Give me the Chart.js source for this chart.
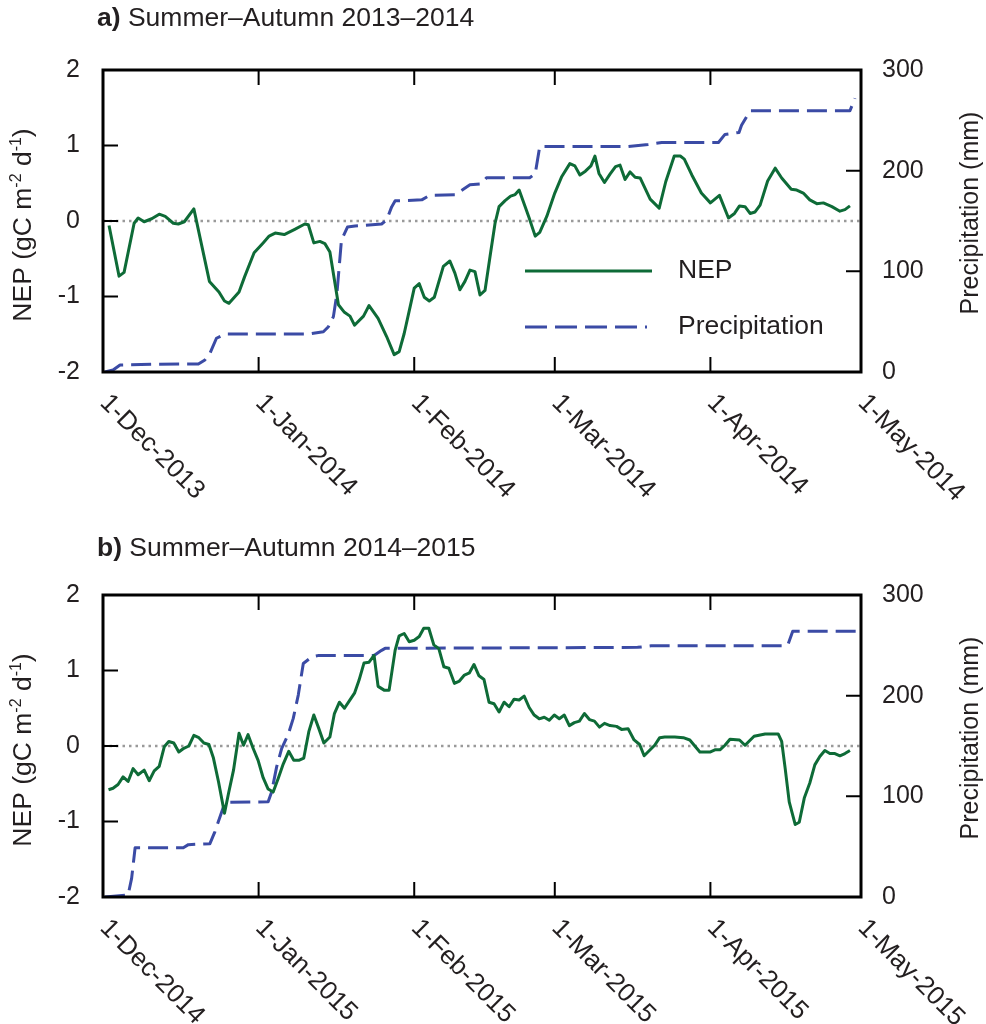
<!DOCTYPE html>
<html>
<head>
<meta charset="utf-8">
<script src="https://cdn.jsdelivr.net/npm/chart.js@4.4.1/dist/chart.umd.min.js"></script>
<style>
  body { margin: 0; background: #fff; }
  .panel { position: absolute; left: 0; }
  #panelA { top: 0; }
  #panelB { top: 525px; }
</style>
</head>
<body>
<div class="panel" id="panelA"><canvas id="chartA" width="986" height="525"></canvas></div>
<div class="panel" id="panelB"><canvas id="chartB" width="986" height="499"></canvas></div>
<script>
// days counted from 1 December of each season
const monthTickDays = [0, 31, 62, 90, 121, 151];
const tickLabelsA = ['1-Dec-2013', '1-Jan-2014', '1-Feb-2014', '1-Mar-2014', '1-Apr-2014', '1-May-2014'];
const tickLabelsB = ['1-Dec-2014', '1-Jan-2015', '1-Feb-2015', '1-Mar-2015', '1-Apr-2015', '1-May-2015'];

// a) 2013-2014
const nepDaysA = [1.2, 3.2, 4.2, 6.2, 7, 8.2, 9.7, 11.2, 12.4, 14, 15, 16.2, 18.1, 21.2, 23.1, 24.2, 25.1, 27.1, 28.2, 30.1,
  31.9, 33.1, 34.3, 36.1, 38.2, 40.2, 40.9, 42, 43.2, 44.2, 45.2, 46.9, 48.1, 49.2, 50.1, 51.9, 53, 54.8, 56.5, 58,
  59, 60, 61.2, 62, 63, 64, 65, 66, 67.8, 69.1, 70.1, 71.1, 72.1, 73.1, 74.1, 75.1, 76.1, 77.1, 78.1, 78.9,
  80.1, 81.2, 82.1, 82.9, 84.1, 84.9, 86.1, 87, 88.4, 90, 91.4, 93, 94, 95, 96.1, 97.2, 98, 98.8, 99.9, 101,
  102.1, 103, 104, 105, 106, 107, 109, 110.8, 112.1, 113.8, 115, 115.8, 117.3, 119.2, 121, 122.8, 124.6, 125.8, 126.8, 127.9,
  128.9, 129.9, 130.9, 132.4, 133.9, 135.2, 137.1, 138.2, 139.5, 140.8, 142.2, 143.5, 145.2, 146.8, 147.8, 148.8];
const nepValsA = [-0.06, -0.73, -0.68, -0.03, 0.04, -0.01, 0.03, 0.09, 0.06, -0.03, -0.04, -0.01, 0.16, -0.80, -0.94, -1.06, -1.09, -0.94, -0.74, -0.42,
  -0.29, -0.20, -0.16, -0.18, -0.11, -0.04, -0.05, -0.29, -0.27, -0.30, -0.41, -1.11, -1.21, -1.26, -1.38, -1.26, -1.12, -1.29, -1.53, -1.77,
  -1.73, -1.49, -1.13, -0.89, -0.83, -1.01, -1.06, -1.01, -0.60, -0.53, -0.69, -0.91, -0.80, -0.65, -0.67, -0.98, -0.92, -0.47, -0.03, 0.19,
  0.27, 0.33, 0.35, 0.41, 0.19, 0.04, -0.20, -0.15, 0.06, 0.37, 0.59, 0.76, 0.73, 0.61, 0.66, 0.73, 0.86, 0.63, 0.51, 0.62,
  0.72, 0.74, 0.55, 0.65, 0.58, 0.57, 0.29, 0.17, 0.52, 0.86, 0.86, 0.82, 0.61, 0.37, 0.24, 0.34, 0.04, 0.10, 0.20, 0.19,
  0.10, 0.12, 0.21, 0.53, 0.70, 0.57, 0.42, 0.41, 0.37, 0.28, 0.23, 0.24, 0.19, 0.13, 0.15, 0.20];
const precipDaysA = [0.4, 2, 3.4, 9.7, 19, 20.3, 21.3, 22.6, 24.3, 40.9, 43.9, 44.9, 45.9, 46.6, 47.5, 48.7, 50.2, 55.5, 56.5, 57.5,
  58.2, 63.5, 65.1, 70.1, 73.1, 75.4, 76.4, 85, 86.1, 87, 104.6, 108.6, 111.3, 122.6, 123.9, 126.7, 127.2, 128.9, 148.8, 149.8];
const precipValsA = [0, 2, 7, 7.6, 8, 12, 18.5, 33.5, 37.7, 37.7, 40, 45, 55, 78, 131, 144, 145, 147, 151, 164,
  170, 171, 175.5, 176, 186, 187, 193, 193, 197, 224, 224, 226, 228, 228, 236, 238, 245, 259.5, 259.5, 272];

// b) 2014-2015
const nepDaysB = [1.1, 2, 3, 4, 5, 6, 7, 8.2, 9.2, 10.2, 11.2, 12.2, 13.1, 14.1, 15.1, 16.1, 17.1, 18.1, 19.1, 20.1,
  21.1, 22, 23, 24.2, 25, 26, 27.1, 28, 28.9, 29.9, 30.9, 31.9, 32.9, 33.9, 34.9, 35.9, 37, 38, 39, 40,
  41, 42, 43, 44, 45.2, 46.1, 47.1, 48.1, 49.2, 50.1, 51, 52, 53, 54, 54.8, 56, 57, 58.2, 59, 60,
  61, 62, 63, 63.9, 64.9, 65.9, 66.9, 67.9, 68.9, 70, 71, 72, 73, 73.9, 74.9, 75.9, 76.9, 77.9, 78.9, 79.9,
  80.9, 81.9, 82.9, 83.9, 84.9, 85.9, 86.9, 87.9, 88.9, 89.9, 90.9, 91.9, 92.9, 93.9, 94.9, 95.9, 96.9, 97.9, 98.9, 99.9,
  101, 102.3, 103.3, 104.6, 105.8, 106.9, 107.8, 109, 109.9, 110.9, 111.9, 113.9, 115.6, 116.9, 117.9, 118.9, 120.9, 121.9, 122.9, 123.9,
  124.9, 126.8, 127.9, 129.7, 131.9, 134.5, 135.2, 135.9, 136.7, 137.9, 138.7, 139.7, 140.8, 141.8, 142.8, 143.8, 144.8, 145.8, 146.8, 147.8, 148.8];
const nepValsB = [-0.58, -0.56, -0.51, -0.41, -0.47, -0.30, -0.38, -0.32, -0.46, -0.33, -0.27, -0.01, 0.06, 0.04, -0.08, -0.03, 0.00, 0.14, 0.11, 0.04,
  0.02, -0.16, -0.47, -0.89, -0.63, -0.32, 0.17, 0.01, 0.15, -0.03, -0.19, -0.42, -0.57, -0.61, -0.43, -0.24, -0.07, -0.19, -0.19, -0.16,
  0.19, 0.41, 0.23, 0.04, 0.12, 0.43, 0.58, 0.50, 0.61, 0.70, 0.87, 1.10, 1.11, 1.20, 0.79, 0.74, 0.74, 1.27, 1.46, 1.49,
  1.38, 1.40, 1.45, 1.56, 1.56, 1.34, 1.29, 1.05, 1.03, 0.83, 0.86, 0.94, 0.97, 1.08, 0.93, 0.88, 0.58, 0.56, 0.45, 0.58,
  0.52, 0.62, 0.61, 0.66, 0.51, 0.41, 0.36, 0.38, 0.34, 0.41, 0.36, 0.41, 0.27, 0.31, 0.33, 0.43, 0.35, 0.33, 0.25, 0.30,
  0.27, 0.26, 0.22, 0.23, 0.08, 0.02, -0.13, -0.05, 0.01, 0.11, 0.12, 0.12, 0.11, 0.08, 0.00, -0.08, -0.08, -0.05, -0.05, 0.01,
  0.09, 0.08, 0.01, 0.13, 0.16, 0.16, 0.06, -0.30, -0.74, -1.04, -1.01, -0.69, -0.49, -0.25, -0.14, -0.06, -0.10, -0.10, -0.13, -0.10, -0.06];
const precipDaysB = [0.4, 5, 5.7, 6.4, 16, 17, 21.3, 22.3, 24.3, 32.9, 33.6, 34.6, 35.6, 36.9, 37.9, 38.9, 39.9, 41.6, 43, 54,
  55.5, 56.2, 106.5, 109.2, 135.5, 136.4, 137.4, 150.3];
const precipValsB = [0, 2, 18.5, 49, 49, 52, 53, 65, 94, 94.6, 104.5, 129.5, 147.6, 161.5, 177.4, 200.6, 232, 238.6, 240, 240,
  245, 247, 248, 249.5, 249.5, 250, 264, 264];

const FONT = '"Liberation Sans", Arial, Helvetica, sans-serif';
const INK = '#231f20';
const NEP_COLOR = '#0e6b37';
const PRECIP_COLOR = '#3b4ba5';
const PRECIP_DASH = [20, 8];

const toPoints = (xs, ys) => xs.map((x, i) => ({ x, y: ys[i] }));

function drawRotatedRich(ctx, parts, x, y, size) {
    // text rotated -90deg, centred on y, baseline at x
    ctx.save();
    ctx.translate(x, y);
    ctx.rotate(-Math.PI / 2);
    ctx.textBaseline = 'alphabetic';
    ctx.textAlign = 'left';
    let total = 0;
    parts.forEach(p => {
        ctx.font = (p.sup ? Math.round(size * 0.62) : size) + 'px ' + FONT;
        p.w = ctx.measureText(p.t).width;
        total += p.w;
    });
    let cx = -total / 2;
    parts.forEach(p => {
        ctx.font = (p.sup ? Math.round(size * 0.62) : size) + 'px ' + FONT;
        ctx.fillText(p.t, cx, p.sup ? -size * 0.38 : 0);
        cx += p.w;
    });
    ctx.restore();
}

const framePlugin = {
    id: 'frame',
    afterDatasetsDraw(chart, args, opts) {
        const { ctx, chartArea: a, scales } = chart;
        const tick = 15;
        ctx.save();
        ctx.strokeStyle = '#000';
        ctx.lineWidth = 2;
        ctx.beginPath();
        monthTickDays.slice(1, -1).forEach(d => {
            const px = scales.x.getPixelForValue(d);
            ctx.moveTo(px, a.bottom); ctx.lineTo(px, a.bottom - tick);
            ctx.moveTo(px, a.top); ctx.lineTo(px, a.top + tick);
        });
        [-1, 0, 1].forEach(v => {
            const py = scales.y.getPixelForValue(v);
            ctx.moveTo(a.left, py); ctx.lineTo(a.left + tick, py);
        });
        [100, 200].forEach(v => {
            const py = scales.y2.getPixelForValue(v);
            ctx.moveTo(a.right, py); ctx.lineTo(a.right - tick, py);
        });
        ctx.stroke();
        ctx.lineWidth = 3;
        ctx.strokeRect(a.left, a.top, a.right - a.left, a.bottom - a.top);
        ctx.restore();
    },
    afterDraw(chart, args, opts) {
        const { ctx, chartArea: a, scales } = chart;
        ctx.save();
        ctx.fillStyle = INK;

        // panel title
        ctx.textBaseline = 'alphabetic';
        ctx.textAlign = 'left';
        ctx.font = 'bold 26.5px ' + FONT;
        ctx.fillText(opts.letter, 97, opts.titleY);
        const lw = ctx.measureText(opts.letter).width;
        ctx.font = '26.5px ' + FONT;
        ctx.fillText(' ' + opts.title, 97 + lw, opts.titleY);

        // rotated date labels
        ctx.font = '26px ' + FONT;
        ctx.textBaseline = 'middle';
        opts.tickLabels.forEach((lab, i) => {
            const px = scales.x.getPixelForValue(monthTickDays[i]);
            ctx.save();
            ctx.translate(px + 1, a.bottom + 27);
            ctx.rotate(Math.PI / 4);
            ctx.fillText(lab, 0, 0);
            ctx.restore();
        });

        // axis titles
        drawRotatedRich(ctx, [
            { t: 'NEP (gC m' }, { t: '-2', sup: true }, { t: ' d' }, { t: '-1', sup: true }, { t: ')' }
        ], 31, a.top + 155, 26.5);
        drawRotatedRich(ctx, [{ t: 'Precipitation (mm)' }], 978, a.top + 143, 25);

        // legend
        if (opts.legend) {
            ctx.lineWidth = 3;
            ctx.strokeStyle = NEP_COLOR;
            ctx.beginPath(); ctx.moveTo(525, 271); ctx.lineTo(652, 271); ctx.stroke();
            ctx.strokeStyle = PRECIP_COLOR;
            ctx.setLineDash([22, 8]);
            ctx.beginPath(); ctx.moveTo(525, 327); ctx.lineTo(647, 327); ctx.stroke();
            ctx.setLineDash([]);
            ctx.font = '26.5px ' + FONT;
            ctx.textBaseline = 'middle';
            ctx.fillText('NEP', 678, 271);
            ctx.fillText('Precipitation', 678, 327);
        }
        ctx.restore();
    }
};

function makePanel(canvasId, nepDays, nepVals, precipDays, precipVals, frameOpts) {
    const ctx = document.getElementById(canvasId).getContext('2d');
    const canvasH = ctx.canvas.height;
    return new Chart(ctx, {
        type: 'line',
        data: {
            datasets: [
                {
                    label: 'NEP',
                    data: toPoints(nepDays, nepVals),
                    yAxisID: 'y',
                    borderColor: NEP_COLOR,
                    borderWidth: 3,
                    order: 0
                },
                {
                    label: 'Precipitation',
                    data: toPoints(precipDays, precipVals),
                    yAxisID: 'y2',
                    borderColor: PRECIP_COLOR,
                    borderWidth: 3,
                    borderDash: PRECIP_DASH,
                    order: 1
                },
                {
                    label: 'zero',
                    data: [{ x: monthTickDays[0], y: 0 }, { x: monthTickDays[monthTickDays.length - 1], y: 0 }],
                    yAxisID: 'y',
                    borderColor: '#9a9a9a',
                    borderWidth: 2.5,
                    borderDash: [2.5, 4],
                    order: 2
                }
            ]
        },
        options: {
            responsive: false,
            animation: false,
            devicePixelRatio: 1,
            elements: {
                point: { radius: 0 },
                line: { tension: 0, borderJoinStyle: 'round', fill: false }
            },
            layout: { padding: { top: 70, bottom: canvasH - 372, left: 0, right: 0 } },
            plugins: {
                legend: { display: false },
                tooltip: { enabled: false },
                frame: frameOpts
            },
            scales: {
                x: { type: 'linear', min: monthTickDays[0], max: monthTickDays[monthTickDays.length - 1], display: false },
                y: {
                    position: 'left', min: -2, max: 2,
                    ticks: { stepSize: 1, padding: 23, color: INK, font: { family: FONT, size: 25 } },
                    grid: { display: false, drawTicks: false },
                    border: { display: false },
                    afterFit: s => { s.width = 103; }
                },
                y2: {
                    position: 'right', min: 0, max: 300,
                    ticks: { stepSize: 100, padding: 21, color: INK, font: { family: FONT, size: 25 } },
                    grid: { display: false, drawTicks: false },
                    border: { display: false },
                    afterFit: s => { s.width = 125; }
                }
            }
        },
        plugins: [framePlugin]
    });
}

makePanel('chartA', nepDaysA, nepValsA, precipDaysA, precipValsA,
    { letter: 'a)', title: 'Summer\u2013Autumn 2013\u20132014', titleY: 26, tickLabels: tickLabelsA, legend: true });
makePanel('chartB', nepDaysB, nepValsB, precipDaysB, precipValsB,
    { letter: 'b)', title: 'Summer\u2013Autumn 2014\u20132015', titleY: 31, tickLabels: tickLabelsB, legend: false });
</script>
</body>
</html>
